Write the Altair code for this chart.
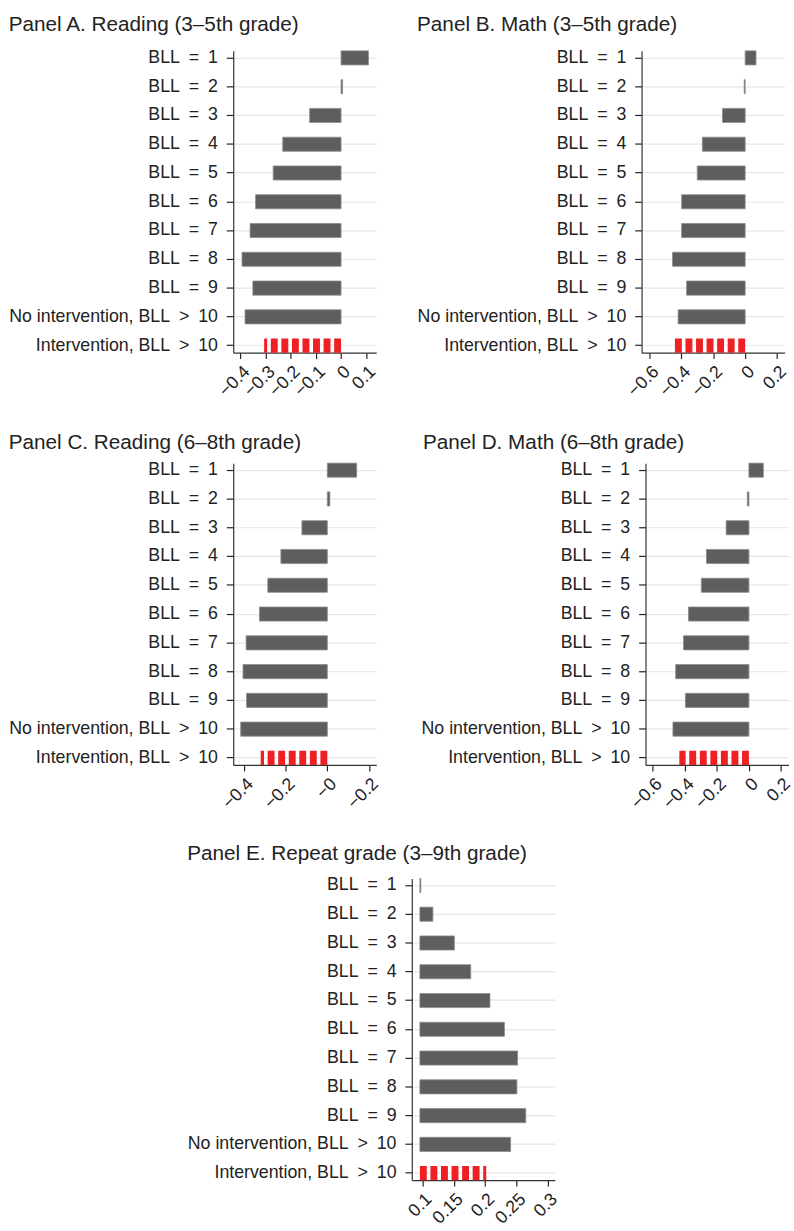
import altair as alt
import pandas as pd

# Row categories (top to bottom); en spaces around the relation signs
ROWS = [
    "BLL\u2002=\u20021", "BLL\u2002=\u20022", "BLL\u2002=\u20023", "BLL\u2002=\u20024",
    "BLL\u2002=\u20025", "BLL\u2002=\u20026", "BLL\u2002=\u20027", "BLL\u2002=\u20028",
    "BLL\u2002=\u20029",
    "No intervention, BLL\u2002>\u200210", "Intervention, BLL\u2002>\u200210",
]
GROUPS = ["dose"] * 10 + ["treated"]

# Estimated effects per panel
READ_35 = [0.109, 0.006, -0.125, -0.232, -0.270, -0.340, -0.362, -0.394, -0.351, -0.382, -0.306]
MATH_35 = [0.068, -0.006, -0.142, -0.268, -0.300, -0.398, -0.398, -0.455, -0.367, -0.420, -0.450]
READ_68 = [0.141, 0.012, -0.122, -0.223, -0.286, -0.326, -0.390, -0.405, -0.388, -0.416, -0.320]
MATH_68 = [0.090, -0.010, -0.142, -0.265, -0.297, -0.377, -0.408, -0.457, -0.396, -0.474, -0.434]
REPEAT = [0.0975, 0.1167, 0.151, 0.177, 0.2076, 0.2307, 0.2517, 0.2506, 0.2647, 0.2406, 0.2017]

# Bar baselines
BASE_SCORES = 0.0
BASE_REPEAT = 0.096

# Axis tick values
TICKS_A = [-0.4, -0.3, -0.2, -0.1, 0, 0.1]
TICKS_B = [-0.6, -0.4, -0.2, 0, 0.2]
TICKS_C = [-0.4, -0.2, 0, 0.2]
TICKS_D = [-0.6, -0.4, -0.2, 0, 0.2]
TICKS_E = [0.1, 0.15, 0.2, 0.25, 0.3]

FONT = "Liberation Sans"
GRAY = "#5e5e5e"
RED = "#ee2024"
PANEL_W = 145
PANEL_H = 306


def panel(title, values, base, domain, ticks, label_expr=None, title_offset=14, title_dx=0):
    df = pd.DataFrame({"row": ROWS, "value": values, "base": base, "group": GROUPS})
    y = alt.Y(
        "row:N", sort=ROWS, title=None,
        scale=alt.Scale(paddingInner=0.51, paddingOuter=0),
        axis=alt.Axis(
            domain=True, domainColor="#333", domainWidth=1.2,
            ticks=True, tickSize=7, tickColor="#222", tickWidth=1.2,
            grid=True, gridColor="#e6e6e6", gridWidth=1.2,
            labelFont=FONT, labelFontSize=18, labelColor="#222",
            labelPadding=9, labelLimit=400, bandPosition=0.5,
        ),
    )
    axis_kw = dict(
        values=ticks, format="~g", grid=False, domain=True, domainColor="#333",
        domainWidth=1.2, ticks=True, tickSize=6, tickColor="#222", tickWidth=1.2,
        labelAngle=-45, labelFont=FONT, labelFontSize=18, labelColor="#222",
        labelPadding=4, labelOverlap=False, labelLimit=200,
    )
    if label_expr:
        axis_kw["labelExpr"] = label_expr
    scale = alt.Scale(domain=domain, nice=False, zero=False)
    bars = (
        alt.Chart(df)
        .transform_filter(alt.datum.group == "dose")
        .mark_bar(color=GRAY, stroke="#8c8c8c", strokeWidth=0.8)
        .encode(
            y=y,
            x=alt.X("base:Q", scale=scale, axis=alt.Axis(**axis_kw), title=None),
            x2="value:Q",
        )
    )
    # Treated group: hatched red bar drawn as a dashed thick rule from the baseline
    striped = (
        alt.Chart(df)
        .transform_filter(alt.datum.group == "treated")
        .mark_rule(color=RED, strokeWidth=14.3, strokeDash=[7, 3.7], strokeCap="butt")
        .encode(
            y=y,
            x=alt.X("base:Q", scale=scale, axis=alt.Axis(**axis_kw), title=None),
            x2="value:Q",
        )
    )
    return alt.layer(bars, striped).properties(
        width=PANEL_W, height=PANEL_H,
        title=alt.TitleParams(
            text=title, anchor="start", frame="bounds", font=FONT,
            fontSize=21, fontWeight="normal", color="#222",
            offset=title_offset, dx=title_dx,
        ),
    )


pa = panel("Panel A. Reading (3–5th grade)", READ_35, BASE_SCORES, [-0.429, 0.14], TICKS_A)
pb = panel("Panel B. Math (3–5th grade)", MATH_35, BASE_SCORES, [-0.649, 0.247], TICKS_B)
pc = panel(
    "Panel C. Reading (6–8th grade)", READ_68, BASE_SCORES, [-0.452, 0.235], TICKS_C,
    label_expr="datum.value > 0.1 ? '−0.2' : (datum.value == 0 ? '−0' : datum.label)",
    title_offset=8,
)
pd_ = panel("Panel D. Math (6–8th grade)", MATH_68, BASE_SCORES, [-0.645, 0.247], TICKS_D,
            title_offset=8, title_dx=2)
pe = panel("Panel E. Repeat grade (3–9th grade)", REPEAT, BASE_REPEAT, [0.0831, 0.311], TICKS_E,
           title_offset=12)

# Blank filler to the right of panel E so the centred bottom row sits where it should
spacer = (
    alt.Chart(pd.DataFrame({"s": [0]}))
    .mark_text(text="", opacity=0)
    .encode(x=alt.value(0), y=alt.value(0))
    .properties(width=55, height=10)
)

top_rows = alt.vconcat(
    alt.hconcat(pa, pb, spacing=38),
    alt.hconcat(pc, pd_, spacing=39),
    spacing=32,
)

chart = (
    alt.vconcat(
        top_rows,
        alt.hconcat(pe, spacer, spacing=0),
        spacing=31, center=True,
    )
    .properties(padding={"left": 8, "top": 5, "right": 0, "bottom": 0}, background="white")
    .configure_view(stroke="transparent", strokeWidth=0)
)

chart.save("out.html", embed_options={"renderer": "svg", "actions": False})
